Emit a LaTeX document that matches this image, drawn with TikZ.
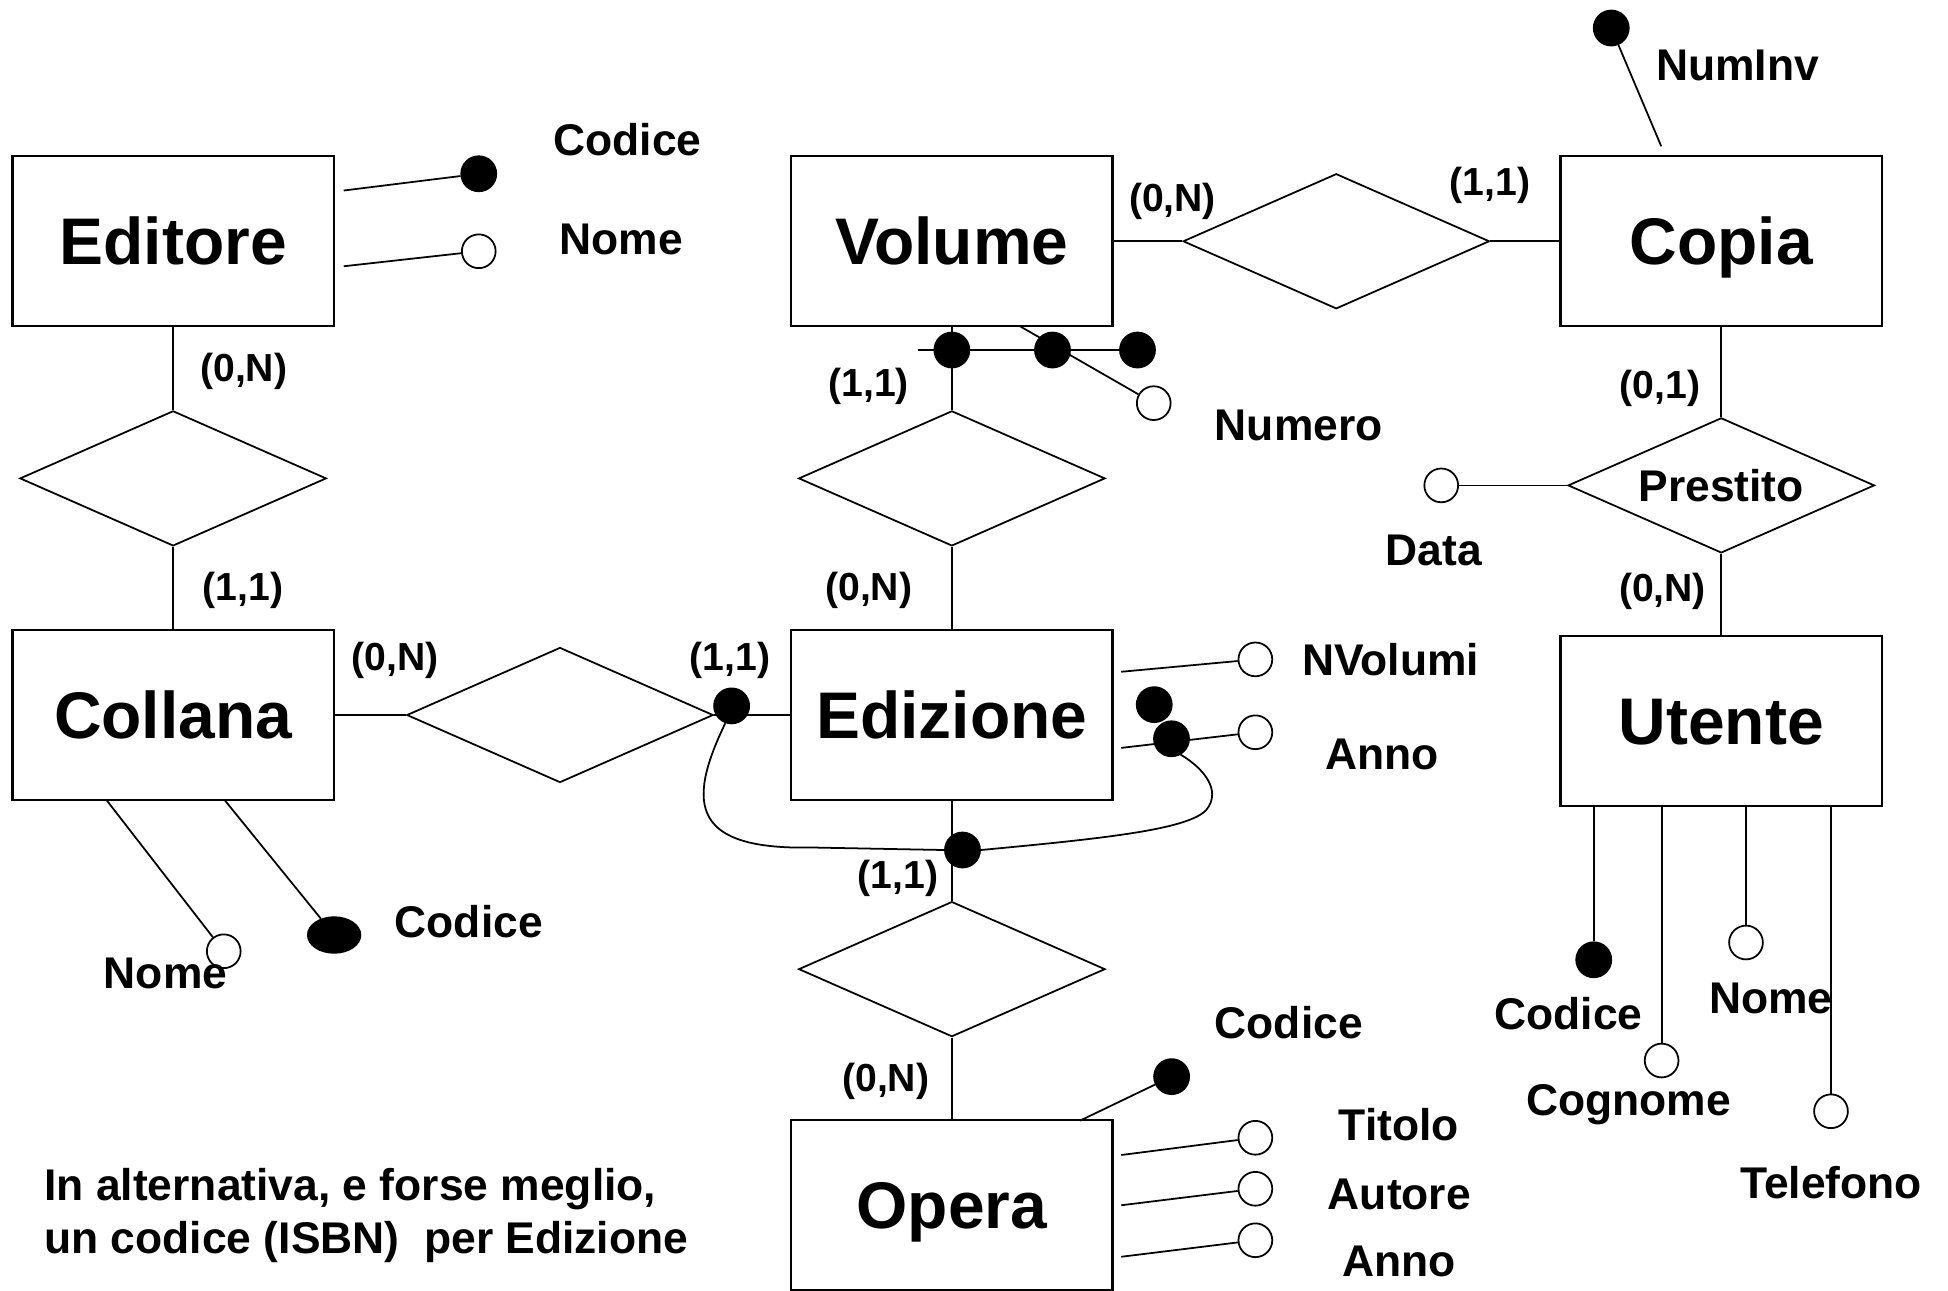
\documentclass[tikz,border=0pt]{standalone}
\usepackage{fontspec}
\setmainfont{Liberation Sans}
\usetikzlibrary{shapes.geometric}
\tikzset{
ent/.style={draw,line width=0.5pt,minimum width=2.57cm,minimum height=1.36cm,inner sep=0pt,text height=10.74pt,text depth=0pt,font=\fontsize{15}{18}\selectfont\bfseries},
rel/.style={draw,diamond,aspect=2.27,minimum width=2.45cm,minimum height=1.08cm,inner sep=0pt,text height=7.23pt,text depth=0pt,font=\fontsize{10.1}{12}\selectfont\bfseries},
pieno/.style={circle,draw,fill=black,inner sep=0pt,minimum size=0.28cm},
vuoto/.style={circle,draw,fill=white,inner sep=0pt,minimum size=0.27cm},
lab/.style={inner sep=0pt,text height=7.23pt,text depth=0pt,font=\fontsize{10.1}{12}\selectfont\bfseries},
card/.style={inner sep=0pt,text height=6.5pt,text depth=1.87pt,font=\fontsize{8.9}{10}\selectfont\bfseries},
nota/.style={inner sep=0pt,align=left,anchor=west,font=\fontsize{10.1}{12.1}\selectfont\bfseries}
}
\begin{document}
\begin{tikzpicture}[x=0.01cm,y=-0.01cm,line width=0.4pt]
\useasboundingbox (0,0) rectangle (1558.4,1032);
\node[ent] (editore) at (138.5,193) {Editore};
\node[ent] (volume) at (761.5,193) {Volume};
\node[ent] (copia) at (1377,193) {Copia};
\node[ent] (collana) at (138.5,572) {Collana};
\node[ent] (edizione) at (761.5,572) {Edizione};
\node[ent] (utente) at (1377,577) {Utente};
\node[ent] (opera) at (761.5,964) {Opera};
\node[rel] (r1) at (138.5,382.7) {};
\node[rel] (r2) at (1069,193) {};
\node[rel] (r3) at (761.5,382.7) {};
\node[rel] (r4) at (448,572) {};
\node[rel] (r5) at (761.5,775.3) {};
\node[rel] (prestito) at (1377,388.3) {Prestito};
\draw (editore) -- (r1) -- (collana);
\draw (volume) -- (r2) -- (copia);
\draw (volume) -- (r3) -- (edizione);
\draw (collana) -- (r4) -- (edizione);
\draw (edizione) -- (r5) -- (opera);
\draw (copia) -- (prestito) -- (utente);
\node[card] (c1) at (195,297) {(0,N)};
\node[card] (c2) at (194.5,472) {(1,1)};
\node[card] (c3) at (938,161) {(0,N)};
\node[card] (c4) at (1192,148) {(1,1)};
\node[card] (c5) at (695,309) {(1,1)};
\node[card] (c6) at (695,472) {(0,N)};
\node[card] (c7) at (316,528) {(0,N)};
\node[card] (c8) at (584,528) {(1,1)};
\node[card] (c9) at (718.5,703) {(1,1)};
\node[card] (c10) at (708.6,865) {(0,N)};
\node[card] (c11) at (1328,311) {(0,1)};
\node[card] (c12) at (1330,473) {(0,N)};
\node[pieno] (edcod) at (383,139) {};
\node[vuoto] (ednom) at (383,201) {};
\coordinate (ed1) at (275,152.4);
\coordinate (ed2) at (275,213);
\draw (ed1) -- (edcod); \draw (ed2) -- (ednom);
\node[lab] (ledcod) at (502,112) {Codice};
\node[lab] (lednom) at (497,191) {Nome};
\coordinate (vk0) at (734,280);
\coordinate (vn0) at (816,261);
\node[pieno] (vk1) at (761.5,280) {};
\node[pieno] (vk2) at (842,280) {};
\node[pieno] (vk3) at (910,280) {};
\node[vuoto] (vnum) at (923,322.5) {};
\draw (vk0) -- (vk3); \draw (vn0) -- (vnum);
\node[lab] (lvnum) at (1039,340) {Numero};
\node[pieno] (cnum) at (1289,22.4) {};
\coordinate (cn0) at (1329,117);
\draw (cn0) -- (cnum);
\node[lab] (lcnum) at (1390,52) {NumInv};
\node[vuoto] (pdata) at (1153,388.3) {};
\draw (pdata) -- (prestito);
\node[lab] (lpdata) at (1147,440) {Data};
\coordinate (cl1) at (85.5,640.4);
\coordinate (cl2) at (180,640.4);
\node[vuoto] (colnom) at (179,761) {};
\node[ellipse,fill=black,draw,inner sep=0pt,minimum width=0.42cm,minimum height=0.285cm] (colcod) at (267.3,748) {};
\draw (cl1) -- (colnom); \draw (cl2) -- (colcod);
\node[lab] (lcolnom) at (132.4,778) {Nome};
\node[lab] (lcolcod) at (375,737.5) {Codice};
\coordinate (ez1) at (897,537.4);
\coordinate (ez2) at (897,598.3);
\node[vuoto] (eznv) at (1004.3,527.5) {};
\node[vuoto] (ezan) at (1004.3,585.8) {};
\draw (ez1) -- (eznv); \draw (ez2) -- (ezan);
\node[pieno] (ezk0) at (923.4,563.7) {};
\node[pieno] (ezk) at (937.2,591) {};
\node[pieno] (ezk1) at (585.3,564.7) {};
\node[pieno] (ezk2) at (770,680) {};
\draw (ezk1.250) .. controls (548,645) and (555,680) .. (650,678) -- (ezk2.west);
\draw (ezk2.east) .. controls (880,671) and (950,664) .. (965,648) .. controls (978,632) and (962,614) .. (ezk.300);
\node[lab] (leznv) at (1112.6,528) {NVolumi};
\node[lab] (lezan) at (1105.7,603) {Anno};
\coordinate (op0) at (864,896.5);
\coordinate (op1) at (897,924);
\coordinate (op2) at (897,964.2);
\coordinate (op3) at (897,1005.4);
\node[pieno] (opcod) at (937.3,861.3) {};
\node[vuoto] (optit) at (1004.3,910.2) {};
\node[vuoto] (opaut) at (1004.3,951) {};
\node[vuoto] (opann) at (1004.3,992.2) {};
\draw (op0) -- (opcod); \draw (op1) -- (optit); \draw (op2) -- (opaut); \draw (op3) -- (opann);
\node[lab] (lopcod) at (1031,818) {Codice};
\node[lab] (loptit) at (1119,900) {Titolo};
\node[lab] (lopaut) at (1119.5,955) {Autore};
\node[lab] (lopann) at (1119.5,1008.6) {Anno};
\node[pieno] (utcod) at (1275,767.8) {};
\node[vuoto] (utcog) at (1329.3,848.4) {};
\node[vuoto] (utnom) at (1396.8,754) {};
\node[vuoto] (uttel) at (1464.8,889) {};
\draw (utcod |- utente.south) -- (utcod); \draw (utcog |- utente.south) -- (utcog);
\draw (utnom |- utente.south) -- (utnom); \draw (uttel |- utente.south) -- (uttel);
\node[lab] (lutcod) at (1254.7,810.5) {Codice};
\node[lab] (lutcog) at (1303,880) {Cognome};
\node[lab] (lutnom) at (1416.8,798) {Nome};
\node[lab] (luttel) at (1464.8,946) {Telefono};
\node[nota] (nota) at (34.8,972.5) {In alternativa, e forse meglio,\\un codice (ISBN)\ \ per Edizione};
\end{tikzpicture}
\end{document}
